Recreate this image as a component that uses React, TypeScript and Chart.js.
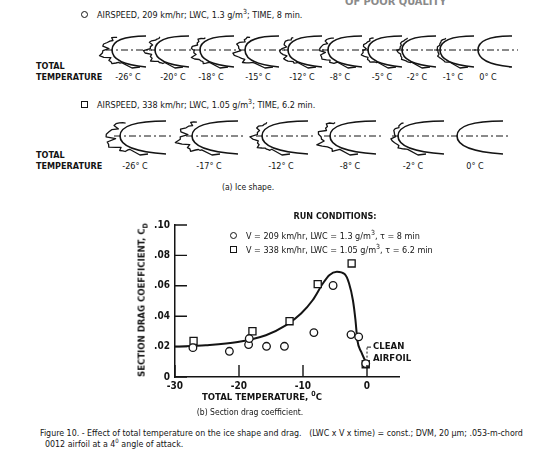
import React, { useEffect, useRef } from "react";
import { Chart, registerables } from "chart.js";

Chart.register(...registerables);

// ---------- data: section drag coefficient chart ----------
const CIRCLE_T = [-27.2, -21.5, -18.5, -18.4, -15.7, -12.9, -8.3, -5.3, -2.5, -1.3, -0.2];
const CIRCLE_CD = [0.0193, 0.0169, 0.0213, 0.0253, 0.0202, 0.0202, 0.0292, 0.0602, 0.0279, 0.0264, 0.0088];
const SQUARE_T = [-27.1, -17.9, -12.1, -7.7, -2.4, -0.2];
const SQUARE_CD = [0.0237, 0.0301, 0.0367, 0.0611, 0.0747, 0.0084];
const CURVE_T = [-30, -25.2, -20.2, -15.8, -12.7, -10.3, -8.5, -6.9, -5.9, -4.7, -3.5, -2.8, -2.2, -1.8, -1.5, -0.9, -0.2];
const CURVE_CD = [0.02, 0.0209, 0.023, 0.0275, 0.034, 0.0418, 0.0505, 0.0615, 0.067, 0.0692, 0.0677, 0.0615, 0.0505, 0.0374, 0.024, 0.0165, 0.0099];
const X_TICKS = [-30, -20, -10, 0];
const X_TICK_LABELS = ["-30", "-20", "-10", "0"];
const Y_TICKS = [0, 0.02, 0.04, 0.06, 0.08, 0.1];
const Y_TICK_LABELS = ["0", ".02", ".04", ".06", ".08", ".10"];

// ---------- ice shape panel labels ----------
const ROW1_TEMPS = ["-26", "-20", "-18", "-15", "-12", "-8", "-5", "-2", "-1", "0"];
const ROW2_TEMPS = ["-26", "-17", "-12", "-8", "-2", "0"];
const ROW1_ICE = [15, 12, 12, 14, 10, 12, 8, 5, 4, 0];
const ROW2_ICE = [20, 19, 12, 17, 8, 0];

const FONT = "'Liberation Sans Narrow', 'DejaVu Sans Condensed', 'Roboto Condensed', sans-serif";
const INK = "#141414";

type TP = { x: number; y: number; size?: number; anchor?: "start" | "middle"; bold?: boolean; children: React.ReactNode; color?: string };
function T({ x, y, size = 9, anchor = "start", bold = false, children, color = INK }: TP) {
  return (
    <div
      style={{
        position: "absolute",
        left: x,
        top: y - size * 0.6,
        lineHeight: 1,
        fontSize: size,
        fontWeight: bold ? 700 : 400,
        whiteSpace: "nowrap",
        color,
        transform: anchor === "middle" ? "translateX(-50%)" : undefined,
      }}
    >
      {children}
    </div>
  );
}

function Sym({ x, y, kind }: { x: number; y: number; kind: "circle" | "square" }) {
  const s = 7;
  return (
    <div
      style={{
        position: "absolute",
        left: x - s / 2,
        top: y - s / 2,
        width: s,
        height: s,
        boxSizing: "border-box",
        border: `1.3px solid ${INK}`,
        borderRadius: kind === "circle" ? "50%" : 0,
      }}
    />
  );
}

function airfoilPath(nx: number, cy: number, h: number, L: number) {
  return `M ${nx + L} ${cy - h} C ${nx + L * 0.35} ${cy - h} ${nx} ${cy - h * 0.65} ${nx} ${cy} C ${nx} ${cy + h * 0.65} ${nx + L * 0.35} ${cy + h + 1} ${nx + L} ${cy + h + 3}`;
}

function icePath(nx: number, cy: number, h: number, ice: number, seed: number) {
  if (!ice) return "";
  const a = 9;
  const cx = nx + a;
  const pts: string[] = [];
  const n = 20;
  for (let k = 0; k <= n; k++) {
    const th = -Math.PI * 0.4 + (k * Math.PI * 0.92) / n;
    const noise = 0.6 + 0.25 * Math.sin(k * 1.3 + seed * 2.1) + 0.15 * Math.sin(k * 3.7 + seed);
    const side = th > 0 ? 1.1 : 0.85;
    const t = ice * noise * side * (0.25 + 0.75 * Math.cos(th));
    const x = cx - (a + t) * Math.cos(th);
    const y = cy + (h * 0.85 + t * 0.4) * Math.sin(th);
    pts.push(`${x.toFixed(1)} ${y.toFixed(1)}`);
  }
  pts.push(`${nx + 20} ${cy + h + 4}`);
  pts.push(`${nx + 28} ${cy + h + 3}`);
  return "M " + pts.join(" L ");
}

const ROW1_NOSE = [112, 155, 200, 245, 288, 328, 368, 402, 440, 478];
const ROW1_LABEL_X = [128, 173, 211, 258, 302, 340, 382, 417, 453, 488];
const ROW2_NOSE = [120, 192, 262, 330, 398, 457];
const ROW2_LABEL_X = [135, 209, 281, 350, 413, 475];

function IceShapes() {
  const row = (noses: number[], ices: number[], cy: number, h: number, L: number, off: number) =>
    noses.map((nx, i) => (
      <g key={`${cy}-${i}`}>
        <path d={`M ${nx - 6} ${cy} L ${nx + L + 6} ${cy}`} stroke={INK} strokeWidth={1} strokeDasharray="7 3 2 3" fill="none" />
        <path d={airfoilPath(nx, cy, h, L)} stroke={INK} strokeWidth={1.6} fill="none" />
        <path d={icePath(nx, cy, h, ices[i], i + off)} stroke={INK} strokeWidth={1.3} fill="none" strokeLinejoin="round" />
      </g>
    ));
  return (
    <svg width={554} height={200} style={{ position: "absolute", left: 0, top: 0 }}>
      {row(ROW1_NOSE, ROW1_ICE, 50, 14, 34, 0)}
      {row(ROW2_NOSE, ROW2_ICE, 136, 15, 46, 5)}
    </svg>
  );
}

function DragChart() {
  const ref = useRef<HTMLCanvasElement | null>(null);
  useEffect(() => {
    if (!ref.current) return;
    const tickFont = { family: FONT, size: 10, weight: "bold" as const };
    const inwardTicks = {
      id: "inwardTicks",
      afterDraw(chart: any) {
        const { ctx, scales } = chart;
        const xs = scales.x;
        const ys = scales.y;
        ctx.save();
        ctx.strokeStyle = INK;
        ctx.lineWidth = 1.4;
        ctx.beginPath();
        X_TICKS.forEach((v) => {
          const px = xs.getPixelForValue(v);
          ctx.moveTo(px, xs.top);
          ctx.lineTo(px, xs.top - 12);
        });
        Y_TICKS.forEach((v) => {
          const py = ys.getPixelForValue(v);
          ctx.moveTo(ys.right, py);
          ctx.lineTo(ys.right + 12, py);
        });
        ctx.stroke();
        // CLEAN AIRFOIL bracket
        const bx = xs.getPixelForValue(0);
        const by = ys.getPixelForValue(0.0088);
        ctx.lineWidth = 1;
        ctx.setLineDash([2, 2]);
        ctx.beginPath();
        ctx.moveTo(bx, by - 6);
        ctx.lineTo(bx, by - 16);
        ctx.stroke();
        ctx.setLineDash([]);
        ctx.beginPath();
        ctx.moveTo(bx, by - 16.5);
        ctx.lineTo(bx + 4, by - 16.5);
        ctx.stroke();
        ctx.restore();
      },
    };
    const chart = new Chart(ref.current, {
      type: "scatter",
      data: {
        datasets: [
          {
            type: "line",
            data: CURVE_T.map((t, i) => ({ x: t, y: CURVE_CD[i] })),
            borderColor: INK,
            borderWidth: 2,
            pointRadius: 0,
            tension: 0.4,
            cubicInterpolationMode: "monotone",
            fill: false,
            order: 3,
          } as any,
          {
            data: CIRCLE_T.map((t, i) => ({ x: t, y: CIRCLE_CD[i] })),
            pointStyle: "circle",
            pointRadius: 3.8,
            borderColor: INK,
            borderWidth: 1.3,
            backgroundColor: "#fff",
            order: 1,
          },
          {
            data: SQUARE_T.map((t, i) => ({ x: t, y: SQUARE_CD[i] })),
            pointStyle: "rect",
            pointRadius: 5,
            borderColor: INK,
            borderWidth: 1.3,
            backgroundColor: "#fff",
            order: 2,
          },
        ],
      },
      options: {
        animation: false,
        responsive: false,
        events: [],
        layout: { padding: { left: 145, right: 155, top: 25, bottom: 3 } },
        plugins: { legend: { display: false }, tooltip: { enabled: false }, title: { display: false } },
        scales: {
          x: {
            type: "linear",
            min: -30,
            max: 5,
            afterBuildTicks: (s: any) => {
              s.ticks = X_TICKS.map((v) => ({ value: v }));
            },
            afterFit: (s: any) => {
              s.height = 20;
            },
            grid: { display: false, drawTicks: false },
            border: { display: true, color: INK, width: 1.5 },
            ticks: {
              color: INK,
              font: tickFont,
              padding: 3,
              maxRotation: 0,
              callback: (v: any) => X_TICK_LABELS[X_TICKS.indexOf(Number(v))] ?? "",
            },
          },
          y: {
            type: "linear",
            min: 0,
            max: 0.1,
            afterBuildTicks: (s: any) => {
              s.ticks = Y_TICKS.map((v) => ({ value: v }));
            },
            afterFit: (s: any) => {
              s.width = 30;
            },
            grid: { display: false, drawTicks: false },
            border: { display: true, color: INK, width: 1.5 },
            ticks: {
              color: INK,
              font: tickFont,
              padding: 5,
              callback: (v: any) => {
                const i = Y_TICKS.findIndex((t) => Math.abs(t - Number(v)) < 1e-9);
                return i >= 0 ? Y_TICK_LABELS[i] : "";
              },
            },
          },
        },
      },
      plugins: [inwardTicks],
    });
    return () => chart.destroy();
  }, []);
  return <canvas ref={ref} width={554} height={200} style={{ position: "absolute", left: 0, top: 200, width: 554, height: 200 }} />;
}

export default function App() {
  return (
    <div
      style={{
        position: "absolute",
        left: 0,
        top: 0,
        width: 554,
        height: 467,
        overflow: "hidden",
        background: "#fff",
        fontFamily: FONT,
        color: INK,
      }}
    >
      <T x={345} y={3} size={11} bold color="#8a8a8a">OF POOR QUALITY</T>

      <Sym x={84} y={14} kind="circle" />
      <T x={97} y={14} size={9}>AIRSPEED, 209 km/hr; LWC, 1.3 g/m<sup style={{ fontSize: 7 }}>3</sup>; TIME, 8 min.</T>
      <T x={36} y={67} size={9} bold>TOTAL</T>
      <T x={36} y={78} size={9} bold>TEMPERATURE</T>
      {ROW1_TEMPS.map((t, i) => (
        <T key={`r1${i}`} x={ROW1_LABEL_X[i]} y={78} size={9} anchor="middle">{t}° C</T>
      ))}

      <Sym x={84} y={104} kind="square" />
      <T x={97} y={104} size={9}>AIRSPEED, 338 km/hr; LWC, 1.05 g/m<sup style={{ fontSize: 7 }}>3</sup>; TIME, 6.2 min.</T>
      <T x={36} y={156} size={9} bold>TOTAL</T>
      <T x={36} y={167} size={9} bold>TEMPERATURE</T>
      {ROW2_TEMPS.map((t, i) => (
        <T key={`r2${i}`} x={ROW2_LABEL_X[i]} y={167} size={9} anchor="middle">{t}° C</T>
      ))}

      <IceShapes />
      <T x={248} y={188} size={8.5} anchor="middle">(a) Ice shape.</T>

      <DragChart />

      <T x={335} y={217} size={9} bold anchor="middle">RUN CONDITIONS:</T>
      <Sym x={233} y={235} kind="circle" />
      <T x={246} y={235} size={9}>V = 209 km/hr, LWC = 1.3 g/m<sup style={{ fontSize: 7 }}>3</sup>, τ = 8 min</T>
      <Sym x={233} y={249} kind="square" />
      <T x={246} y={249} size={9}>V = 338 km/hr, LWC = 1.05 g/m<sup style={{ fontSize: 7 }}>3</sup>, τ = 6.2 min</T>

      <div
        style={{
          position: "absolute",
          left: 143,
          top: 300,
          transform: "translate(-50%, -50%) rotate(-90deg)",
          fontSize: 9.5,
          fontWeight: 700,
          whiteSpace: "nowrap",
          lineHeight: 1,
        }}
      >
        SECTION DRAG COEFFICIENT, C<sub style={{ fontSize: 7 }}>D</sub>
      </div>
      <T x={262} y={397} size={9.5} bold anchor="middle">TOTAL TEMPERATURE, <sup style={{ fontSize: 7 }}>0</sup>C</T>

      <T x={373} y={347} size={9.5} bold>CLEAN</T>
      <T x={373} y={359} size={9.5} bold>AIRFOIL</T>

      <T x={250} y={413} size={8.5} anchor="middle">(b) Section drag coefficient.</T>
      <T x={40} y={434} size={8.8}>
        Figure 10. - Effect of total temperature on the ice shape and drag.&nbsp;&nbsp; (LWC x V x time) = const.; DVM, 20 µm; .053-m-chord
      </T>
      <T x={45} y={443} size={8.8}>0012 airfoil at a 4<sup style={{ fontSize: 6 }}>0</sup> angle of attack.</T>
    </div>
  );
}
